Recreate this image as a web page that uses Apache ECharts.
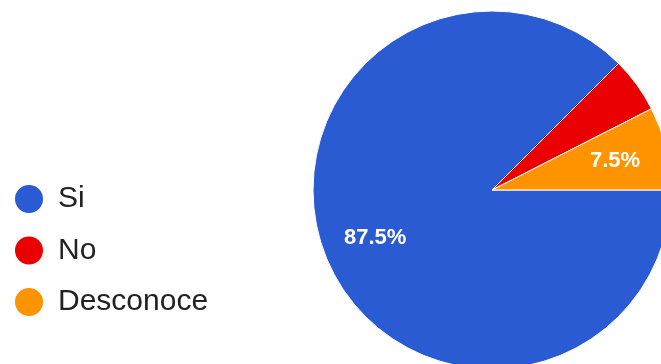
<!DOCTYPE html>
<html>
<head>
<meta charset="utf-8">
<script src="https://cdn.jsdelivr.net/npm/echarts@6/dist/echarts.min.js"></script>
<style>
html,body{margin:0;padding:0;background:#fff;}
#c{width:661px;height:364px;}
</style>
</head>
<body>
<div id="c"></div>
<script>
const categories = ['Si', 'No', 'Desconoce'];
const values = [87.5, 5, 7.5];
const colors = ['#2a5bd3', '#ea0000', '#ff9400'];

const FONT = '"Liberation Sans", Arial, Helvetica, sans-serif';
const CX = 492, CY = 190, R = 179;

const data = categories.map((c, i) => ({ name: c, value: values[i], itemStyle: { color: colors[i] } }));

const chart = echarts.init(document.getElementById('c'), null, { renderer: 'canvas' });
chart.setOption({
  animation: false,
  backgroundColor: '#fff',
  legend: {
    orient: 'vertical',
    left: 8,
    top: 178,
    icon: 'circle',
    itemWidth: 30,
    itemHeight: 30,
    itemGap: 19.5,
    selectedMode: false,
    data: categories,
    textStyle: { fontFamily: FONT, fontSize: 30, color: '#222', padding: [0, 0, 0, 9] }
  },
  series: [
    {
      type: 'pie',
      center: [CX, CY],
      radius: [0, R],
      startAngle: 0,
      clockwise: true,
      label: { show: false },
      labelLine: { show: false },
      itemStyle: { borderColor: '#fff', borderWidth: 1 },
      emphasis: { disabled: true },
      data: data
    },
    {
      type: 'pie',
      center: [CX, CY],
      radius: [0, R * 1.38],
      startAngle: 0,
      clockwise: true,
      silent: true,
      legendHoverLink: false,
      itemStyle: { color: 'rgba(0,0,0,0)', borderWidth: 0 },
      labelLine: { show: false },
      label: {
        show: true,
        position: 'inner',
        color: '#fff',
        fontFamily: FONT,
        fontSize: 22,
        fontWeight: 'bold',
        formatter: p => p.value >= 6 ? p.value.toFixed(1) + '%' : ''
      },
      emphasis: { disabled: true },
      data: categories.map((c, i) => ({ name: c + ' ', value: values[i] }))
    }
  ]
});
</script>
</body>
</html>
